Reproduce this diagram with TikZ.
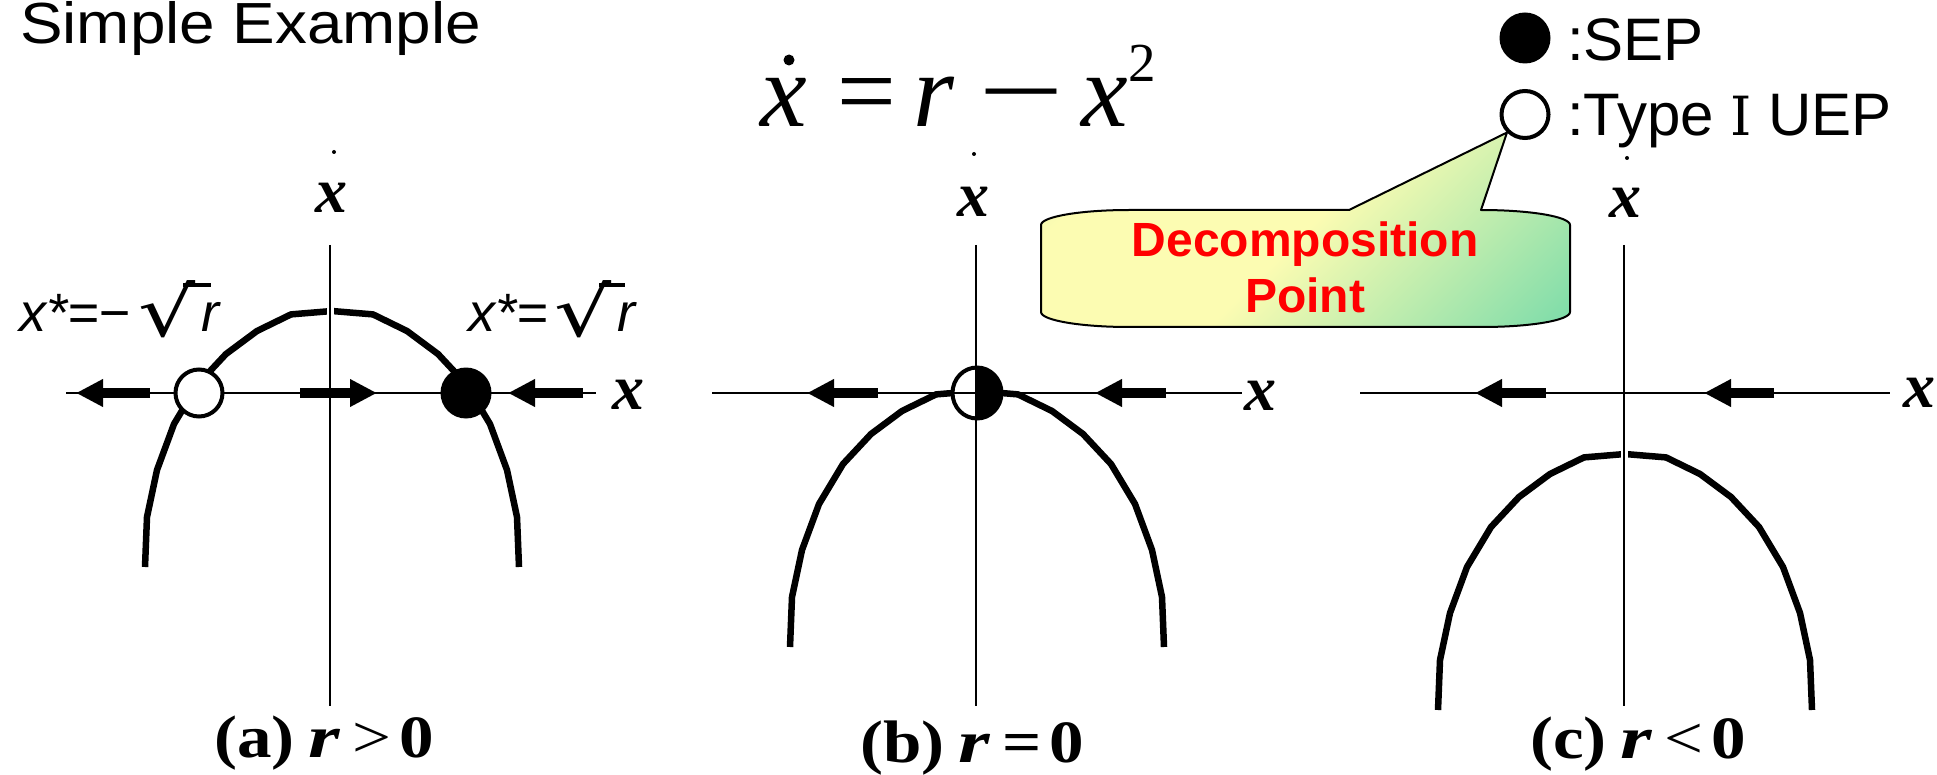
\documentclass[tikz,border=0pt]{standalone}
\usepackage{fontspec}
\setmainfont{Liberation Serif}
\newfontfamily\ari{Liberation Sans}
\newfontfamily\dvser{DejaVu Serif}
\newfontfamily\dvsan{DejaVu Sans}
\usetikzlibrary{arrows.meta}
\definecolor{cgA}{RGB}{184,230,166}
\definecolor{cgY}{RGB}{252,252,178}
\definecolor{cgB}{RGB}{70,206,166}
\pgfdeclarehorizontalshading{callgrad}{100bp}{color(0bp)=(cgA); color(25bp)=(cgY); color(50bp)=(cgY); color(100bp)=(cgB)}
\newcommand\fs[1]{\fontsize{#1}{#1}\selectfont}
\newcommand\sx[1]{\scalebox{1.15}[1]{#1}}
\newcommand\sr[1]{\scalebox{1.35}[1]{#1}}
\newcommand\putat[2]{\rlap{\hspace{#1pt}\makebox[0pt]{#2}}}
\newcommand\bifcurve[2]{\begin{scope}[shift={(#1,#2)}]
\draw[bcurve] (-187,256) -- (-185,206) -- (-175,159) -- (-158,113) -- (-134,73) -- (-106,43) -- (-75,20) -- (-41,3.4) -- (0,0) -- (41,3.4) -- (75,20) -- (106,43) -- (134,73) -- (158,113) -- (175,159) -- (185,206) -- (187,256);
\end{scope}}
\begin{document}
\begin{tikzpicture}[x=1pt,y=-1pt,
  axisln/.style={line width=2.4pt},
  bcurve/.style={line width=6.5pt,line join=round},
  flow/.style={line width=9.7pt,-{Triangle[length=27pt,width=26pt]}},
  sepdot/.style={circle,fill=black,inner sep=0pt,minimum size=51pt},
  uepdot/.style={circle,draw=black,fill=white,line width=4pt,inner sep=0pt,minimum size=47pt},
  axlab/.style={font=\fs{64}\bfseries\itshape,inner sep=0pt,anchor=base},
  sanslab/.style={font=\ari\fs{54}\itshape,inner sep=0pt,anchor=base west},
  radn/.style={font=\dvsan\fs{69},inner sep=0pt,anchor=base west},
  legtxt/.style={font=\ari\fs{60},inner sep=0pt,anchor=base west},
  calltxt/.style={font=\ari\bfseries\fs{48},text=red,inner sep=0pt,anchor=base},
  caplab/.style={font=\fs{60}\bfseries,inner sep=0pt,anchor=base},
  tinydot/.style={fill=black}
]
\useasboundingbox (0,0) rectangle (1937,775);

% title
\node[font=\ari\fs{58},inner sep=0pt,anchor=base west] (ttl) at (20,44) {\scalebox{1.1}[1]{Simple Example}};

% equation  (x-dot = r - x^2)
\node[font=\fs{105}\itshape,inner sep=0pt,anchor=base west] (eqn) at (755,127)
  {\putat{28}{x}\putat{110}{=}\putat{178.5}{r}\putat{266}{\upshape\scalebox{1.45}[1]{−}}\putat{349}{x}\putat{387}{\raisebox{45pt}{\fs{55}\upshape 2}}\hspace{400pt}};
\fill[tinydot] (789,60) circle[radius=5.5];

% legend
\node[sepdot] (sepL) at (1525,38) {};
\node[uepdot] (uepL) at (1525,114.5) {};
\node[legtxt] (lsep) at (1567,61) {:SEP};
\node[legtxt] (luep) at (1567,136) {:Type {\dvser\fs{54}Ⅰ} UEP};

% callout
\shadedraw[shading=callgrad,shading angle=-45,draw=black,line width=2pt,line join=round]
  (1349,210) -- (uepL.south west) -- (1481,210)
  .. controls (1530.6,210) and (1570,216.7) .. (1570,225) -- (1570,312)
  .. controls (1570,320.3) and (1530.6,327) .. (1482,327) -- (1129,327)
  .. controls (1080.4,327) and (1041,320.3) .. (1041,312) -- (1041,225)
  .. controls (1041,216.7) and (1080.4,210) .. (1129,210) -- cycle;
\node[calltxt] (dp1) at (1305,257) {Decomposition};
\node[calltxt] (dp2) at (1305,313) {Point};

% ---------- panel (a)
\bifcurve{332}{311}
\draw[white,line width=7pt] (330,300) -- (330,322);
\draw[axisln] (330,245) -- (330,706);
\draw[axisln] (66,393) -- (596,393);
\draw[flow] (150,393) -- (76,393);
\draw[flow] (300,393) -- (377,393);
\draw[flow] (583,393) -- (508,393);
\node[uepdot] (ua) at (199,393) {};
\node[sepdot] (sa) at (466,393) {};
\fill[tinydot] (334,152) circle[radius=2];
\node[axlab] (xva) at (331,213) {x};
\node[axlab] (xha) at (628,409) {x};
\node[sanslab] (xsl) at (19,332) {x*=−};
\node[radn] (rdl) at (138,337) {\scalebox{1.3}[1]{√}};
\node[sanslab] (rl) at (201,332) {r};
\draw[line width=4pt] (183,285) -- (211,285);
\node[sanslab] (xsr) at (468,332) {x*=};
\node[radn] (rdr) at (554,337) {\scalebox{1.3}[1]{√}};
\node[sanslab] (rr) at (617,332) {r};
\draw[line width=4pt] (599,285) -- (625,285);
\node[caplab] (capa) at (324,757) {\sx{(a)}\hspace{14pt}\sr{\itshape r}\hspace{12pt}\sx{\mdseries >}\hspace{8pt}\sx{0}};

% ---------- panel (b)
\bifcurve{977}{391}
\fill[white] (977,393) ellipse[x radius=24.5,y radius=25.5];
\begin{scope}
\clip (977,360) rectangle (1010,425);
\fill (977,393) ellipse[x radius=24.5,y radius=25.5];
\end{scope}
\draw[axisln] (976,245) -- (976,706);
\draw[axisln] (712,393) -- (1242,393);
\draw[line width=4pt] (977,393) ellipse[x radius=24.5,y radius=25.5];
\draw[flow] (878,393) -- (807,393);
\draw[flow] (1166,393) -- (1095,393);
\fill[tinydot] (974,154) circle[radius=2];
\node[axlab] (xvb) at (973,217) {x};
\node[axlab] (xhb) at (1260,410) {x};
\node[caplab] (capb) at (972,762) {\sx{(b)}\hspace{14pt}\sr{\itshape r}\hspace{12pt}\sx{=}\hspace{8pt}\sx{0}};

% ---------- panel (c)
\bifcurve{1625}{454}
\draw[white,line width=7pt] (1624,443) -- (1624,465);
\draw[axisln] (1624,245) -- (1624,706);
\draw[axisln] (1360,393) -- (1890,393);
\draw[flow] (1546,393) -- (1475,393);
\draw[flow] (1774,393) -- (1704,393);
\fill[tinydot] (1627,158) circle[radius=2];
\node[axlab] (xvc) at (1625,218) {x};
\node[axlab] (xhc) at (1919,407) {x};
\node[caplab] (capc) at (1638,758) {\sx{(c)}\hspace{14pt}\sr{\itshape r}\hspace{12pt}\sx{\mdseries <}\hspace{8pt}\sx{0}};
\end{tikzpicture}
\end{document}
